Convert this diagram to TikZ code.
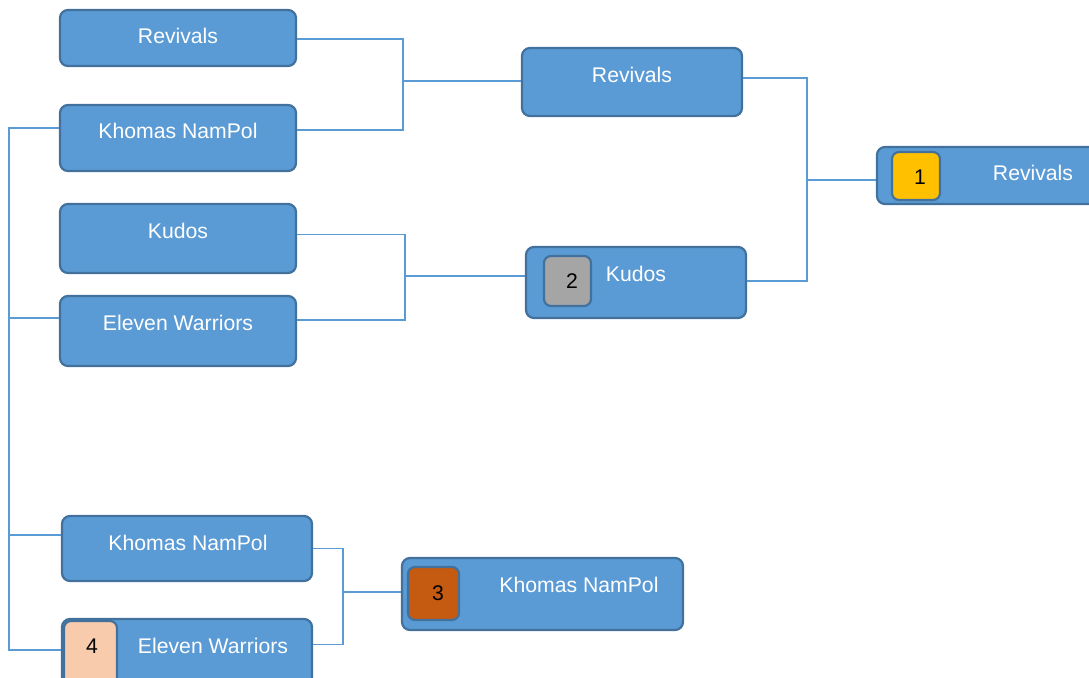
\documentclass[tikz,border=0pt]{standalone}
\usepackage{fontspec}
\setmainfont{Liberation Sans}
\usepackage{tikz}
\definecolor{boxfill}{HTML}{5B9BD5}
\definecolor{boxline}{HTML}{41719C}
\definecolor{linkcol}{HTML}{5B9BD5}
\definecolor{gold}{HTML}{FFC000}
\definecolor{silver}{HTML}{A5A5A5}
\definecolor{bronze}{HTML}{C55A11}
\definecolor{peach}{HTML}{F8CBAD}

\begin{document}
\begin{tikzpicture}[x=0.5pt,y=-0.5pt,
        team/.style={draw=boxline,fill=boxfill,line width=1.1pt,rounded corners=4pt,inner sep=0pt},
        badge/.style={draw=boxline,line width=1.1pt,rounded corners=3.5pt,inner sep=0pt},
        teamname/.style={text=white,font=\fontsize{10.6}{12}\selectfont},
        rank/.style={text=black,font=\fontsize{10.6}{12}\selectfont},
        link/.style={draw=linkcol,line width=0.6pt}]
        \clip (0,0) rectangle (1089,677);
        \fill[white] (0,0) rectangle (1089,677);

        % first round
        \node[team,minimum width=118pt,minimum height=28pt] (r1a) at (178,38) {};
        \node[team,minimum width=118pt,minimum height=33pt] (r1b) at (178,138) {};
        \node[team,minimum width=118pt,minimum height=34.5pt] (r1c) at (178,238.5) {};
        \node[team,minimum width=118pt,minimum height=35pt] (r1d) at (178,331) {};
        \node[teamname] (r1a-t) at (178,36) {Revivals};
        \node[teamname] (r1b-t) at (178,131) {Khomas NamPol};
        \node[teamname] (r1c-t) at (178,231) {Kudos};
        \node[teamname] (r1d-t) at (178,323) {Eleven Warriors};

        % second round
        \node[team,minimum width=110pt,minimum height=34pt] (sfa) at (632,82) {};
        \node[team,minimum width=110pt,minimum height=35.5pt] (sfb) at (636,282.5) {};
        \node[badge,fill=silver,minimum width=23.5pt,minimum height=25pt] (b2) at (567.5,281) {};
        \node[teamname] (sfa-t) at (632,75) {Revivals};
        \node[teamname] (sfb-t) at (636,274) {Kudos};
        \node[rank] (n2) at (572,281) {2};

        % final
        \node[team,minimum width=116.5pt,minimum height=28.5pt] (fin) at (993.5,175.5) {};
        \node[badge,fill=gold,minimum width=24pt,minimum height=24pt] (b1) at (916,176) {};
        \node[teamname] (fin-t) at (1033,173) {Revivals};
        \node[rank] (n1) at (920,177) {1};

        % third place
        \node[team,minimum width=125pt,minimum height=32.5pt] (lba) at (187,548.5) {};
        \node[team,minimum width=125pt,minimum height=35.5pt] (lbb) at (187,654.5) {};
        \node[badge,fill=peach,minimum width=26.5pt,minimum height=34.5pt] (b4) at (90.5,655.5) {};
        \node[teamname] (lba-t) at (188,543) {Khomas NamPol};
        \node[teamname] (lbb-t) at (213,646) {Eleven Warriors};
        \node[rank] (n4) at (92,646) {4};

        \node[team,minimum width=140.5pt,minimum height=36pt] (thr) at (542.5,594) {};
        \node[badge,fill=bronze,minimum width=25.5pt,minimum height=26.5pt] (b3) at (433.5,593.5) {};
        \node[teamname] (thr-t) at (579,585) {Khomas NamPol};
        \node[rank] (n3) at (438,593) {3};

        % brackets
        \coordinate (j1) at (403,81);
        \coordinate (j2) at (405,276);
        \coordinate (j3) at (807,180);
        \coordinate (j4) at (343,592);
        \draw[link] ([yshift=-0.5pt]r1a.east) -| (j1) |- ([yshift=4pt]r1b.east);
        \draw[link] (j1) -- (j1 -| sfa.west);
        \draw[link] ([yshift=2pt]r1c.east) -| (j2) |- ([yshift=5.5pt]r1d.east);
        \draw[link] (j2) -- (j2 -| sfb.west);
        \draw[link] ([yshift=2pt]sfa.east) -| (j3) |- ([yshift=0.75pt]sfb.east);
        \draw[link] (j3) -- (j3 -| fin.west);
        \draw[link] (lba.east) -| (j4) |- ([yshift=5pt]lbb.east);
        \draw[link] (j4) -- (j4 -| thr.west);

        % losers
        \coordinate (lt) at (9,128);
        \coordinate (lb) at (9,650);
        \draw[link] ([yshift=5pt]r1b.west) -- (lt) -- (lb) -- ([yshift=2.25pt]lbb.west);
        \draw[link] ([yshift=6.5pt]r1d.west) -| (lt);
        \draw[link] ([yshift=6.75pt]lba.west) -| (lt);
\end{tikzpicture}
\end{document}
